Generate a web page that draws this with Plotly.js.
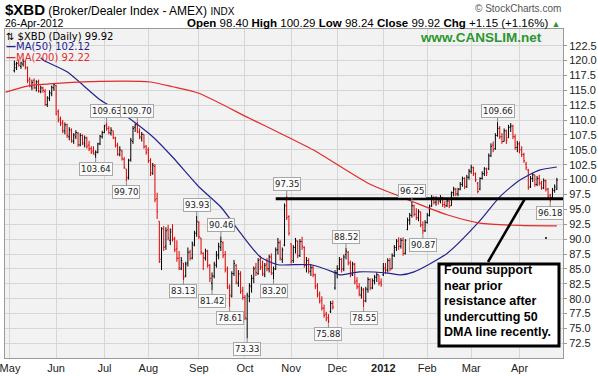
<!DOCTYPE html>
<html><head><meta charset="utf-8">
<script src="https://cdn.plot.ly/plotly-3.0.1.min.js"></script>
<style>html,body{margin:0;padding:0;background:#fff;}#chart{width:598px;height:376px;}</style>
</head><body><div id="chart"></div>
<script>
// ---------- DATA ----------
const calendarStart = '2011-04-28';
const calendarEnd = '2012-04-26';
const marketHolidays = ['2011-05-30','2011-07-04','2011-09-05','2011-11-24','2011-12-26','2012-01-02','2012-01-16','2012-02-20','2012-04-06'];
const firstBarDate = '2011-05-04';

const openPrices = [
118.3,118.8,119.6,119.0,119.4,119.8,118.8,116.8,115.6,116.6,
115.4,116.4,114.8,115.4,114.8,112.6,113.6,114.4,115.4,115.8,
111.4,110.2,109.6,108.2,109.2,107.2,108.2,106.4,107.2,107.8,
105.8,107.4,106.0,107.0,105.8,105.2,104.8,104.2,104.6,106.0,
107.2,107.9,109.2,108.6,107.8,108.2,107.0,105.8,104.2,104.8,
103.4,101.8,100.4,103.4,106.4,108.8,109.2,108.0,107.0,107.6,
105.6,105.0,103.2,101.0,102.2,96.8,93.0,86.6,91.6,88.8,
91.6,89.8,91.6,90.0,88.4,86.8,85.0,86.0,83.8,86.0,
87.8,86.8,89.0,91.0,92.8,90.2,87.6,86.8,88.0,85.6,
82.6,83.8,85.6,87.2,88.6,89.4,87.4,85.0,81.8,80.4,
84.2,85.6,82.6,84.0,81.4,80.2,76.6,80.4,82.0,83.4,
85.2,84.2,86.6,85.4,84.0,85.8,85.0,87.0,84.2,85.0,
88.2,89.4,86.6,89.0,96.4,93.8,89.2,86.4,88.6,89.6,
87.2,89.6,88.6,85.6,86.4,84.6,85.2,84.0,82.2,80.8,
79.8,78.4,77.4,76.8,77.8,79.2,81.8,84.4,85.0,86.6,
85.0,87.4,87.8,86.0,84.0,85.8,83.0,82.0,80.6,81.4,
79.6,81.6,83.2,81.8,83.0,83.6,84.0,82.8,84.0,85.2,
84.8,86.4,85.0,87.2,88.6,89.8,88.8,89.8,87.6,91.6,
93.2,94.0,95.6,94.2,93.6,94.6,92.4,91.4,92.8,94.0,
95.6,97.0,96.2,96.8,96.4,97.0,95.8,95.6,96.4,95.6,
97.8,98.4,97.6,98.4,99.2,100.2,98.8,100.4,101.4,102.0,
101.0,99.4,98.4,100.2,101.0,101.8,101.8,104.0,105.8,105.2,
107.4,108.6,107.2,106.4,108.2,107.0,108.8,109.0,107.2,105.4,
106.0,105.0,104.2,102.6,101.6,98.8,100.2,100.8,99.2,100.2,
99.4,98.6,99.8,98.4,97.4,97.0,98.2,98.40];

const highPrices = [
120.0,119.8,120.2,119.8,120.3,119.9,119.0,117.2,116.8,117.0,
116.7,116.8,115.8,115.6,115.2,114.0,115.0,115.8,116.2,115.9,
111.8,110.6,110.0,109.6,109.4,108.8,108.6,107.8,108.3,108.0,
107.8,107.6,107.4,107.2,106.5,105.6,105.6,104.9,106.2,107.5,
108.2,109.2,109.63,109.0,108.8,108.2,107.2,106.2,105.6,105.0,
103.8,101.8,103.5,107.0,109.0,109.4,109.70,108.6,108.0,107.6,
105.8,105.4,103.6,102.8,102.6,97.8,93.0,92.0,92.2,92.0,
92.4,91.8,92.5,90.4,89.8,88.0,87.0,86.0,86.2,88.6,
88.2,89.6,91.4,93.93,93.0,90.2,87.8,88.4,88.2,85.8,
84.4,86.2,88.0,89.4,90.46,89.6,88.0,85.4,82.4,84.6,
86.5,85.8,84.8,84.6,82.0,80.6,81.0,82.6,84.0,85.4,
86.0,86.8,87.2,86.4,86.0,86.8,87.4,87.6,85.4,88.6,
90.2,89.8,88.6,96.0,97.35,94.0,89.3,89.0,90.2,89.8,
90.0,90.4,88.8,87.0,86.8,85.8,85.6,84.2,82.6,81.2,
80.4,79.0,77.8,77.4,79.6,79.7,84.8,85.6,87.0,86.8,
87.4,88.52,88.0,86.4,86.2,86.0,83.6,82.6,82.0,81.8,
82.0,83.6,83.4,83.4,84.0,84.4,84.0,83.4,86.0,86.0,
86.8,86.8,87.6,89.0,90.0,90.3,90.2,90.3,90.0,93.6,
94.4,96.25,95.8,95.2,95.0,94.6,93.0,93.2,94.4,95.8,
97.4,97.2,97.2,97.0,97.4,97.1,96.4,96.8,96.6,98.0,
98.8,98.6,98.6,99.6,100.5,100.4,100.8,101.8,102.5,102.2,
101.2,99.6,100.4,101.4,102.1,102.0,104.4,106.1,106.4,107.8,
109.66,109.0,107.8,108.6,108.4,109.2,109.5,109.2,107.6,106.5,
106.4,105.6,104.5,103.0,101.8,100.6,101.1,100.8,100.6,100.8,
99.8,100.2,100.0,98.6,97.6,98.6,99.2,100.29];

const lowPrices = [
118.0,118.4,119.0,118.6,119.0,118.5,116.2,115.5,115.0,115.2,
114.8,114.6,114.5,114.6,112.4,112.2,113.2,114.0,114.9,110.8,
109.6,109.0,107.8,107.6,107.0,106.6,106.2,106.0,106.8,105.5,
105.6,105.8,105.4,105.2,104.8,104.3,104.2,103.64,104.4,105.8,
106.9,107.8,108.2,107.6,107.4,106.8,105.4,104.0,103.9,103.2,
101.8,99.70,100.0,103.0,106.0,108.0,107.8,106.8,106.4,105.2,
104.2,102.8,100.6,100.8,96.2,93.4,86.0,84.8,88.0,88.2,
89.8,89.0,89.6,87.8,86.2,84.8,84.8,83.13,83.6,85.4,
86.4,86.6,88.8,90.4,90.0,87.4,84.8,86.4,85.2,82.8,
81.42,83.4,85.2,86.6,88.0,86.8,84.4,81.6,78.61,80.2,
83.8,82.4,82.0,80.8,79.8,76.4,73.33,79.4,81.0,82.6,
83.8,84.0,84.8,83.8,83.6,84.6,84.4,84.0,83.20,84.8,
87.4,86.4,86.0,88.8,93.2,90.6,85.9,86.0,87.6,86.8,
87.0,88.2,85.2,84.4,84.2,83.8,83.6,81.6,80.2,79.2,
78.0,76.8,76.2,75.88,77.6,78.2,81.5,83.4,84.8,84.4,
84.6,86.6,85.6,83.6,83.8,82.4,81.6,80.4,80.0,78.55,
79.4,81.0,81.4,81.6,82.4,82.8,82.2,82.0,83.8,84.2,
84.4,84.6,85.0,87.0,88.0,88.2,88.4,87.2,87.4,91.5,
92.4,93.6,93.8,93.2,93.0,92.0,90.87,91.2,92.6,93.8,
95.4,95.8,95.6,95.8,96.0,95.4,95.2,95.4,95.2,95.6,
97.2,97.2,97.2,98.2,98.8,98.4,98.6,100.0,101.0,100.6,
99.6,97.7,98.2,100.0,100.6,100.6,101.6,103.8,104.6,105.0,
107.2,106.8,106.0,106.4,106.0,107.0,108.0,106.8,105.0,104.6,
104.4,103.8,102.8,101.6,98.3,98.6,99.6,98.8,98.9,99.0,
98.3,98.4,98.0,96.8,96.18,96.8,97.8,98.24];

const closePrices = [
119.4,119.5,119.2,119.6,119.9,118.8,116.6,115.8,116.3,115.5,
116.4,114.9,115.4,115.0,112.6,113.8,114.6,115.5,116.0,111.0,
110.0,109.4,108.2,109.2,107.4,108.4,106.6,107.5,107.9,105.9,
107.4,106.2,107.0,105.6,105.2,104.6,104.5,104.6,106.0,107.3,
107.9,109.0,108.6,107.9,108.3,107.0,105.7,104.3,105.0,103.5,
102.1,100.2,103.2,106.6,108.6,109.2,108.0,107.2,107.6,105.5,
104.6,103.2,101.2,102.4,96.6,94.6,86.2,91.8,88.6,91.4,
90.2,91.2,90.0,88.2,86.8,85.2,86.4,83.6,85.8,87.8,
86.8,89.2,91.0,93.0,90.4,87.8,86.9,88.0,85.6,83.4,
83.8,85.8,87.4,88.8,89.6,87.2,84.8,82.0,80.6,84.2,
85.9,82.8,84.2,81.2,80.2,76.8,80.6,82.2,83.4,85.0,
84.4,86.4,85.2,84.2,85.6,85.0,87.0,84.4,85.0,88.2,
89.4,86.8,88.2,95.6,93.6,91.0,86.2,88.6,89.8,87.2,
89.6,88.8,85.6,86.4,84.6,85.2,84.0,82.0,80.6,79.6,
78.4,77.2,76.6,76.2,79.2,78.6,84.4,85.0,86.6,85.0,
87.0,88.0,86.0,84.0,85.8,82.8,82.0,80.8,81.6,79.6,
81.6,83.2,81.8,83.0,83.6,84.0,82.6,82.4,85.0,84.8,
86.4,85.0,87.2,88.6,89.6,88.8,89.8,87.6,89.8,93.2,
94.0,95.6,94.2,93.6,94.6,92.4,91.4,92.8,94.0,95.4,
97.0,96.2,96.8,96.4,97.0,95.8,95.6,96.4,95.6,97.8,
98.4,97.6,98.4,99.2,100.2,98.8,100.4,101.4,102.0,101.0,
100.0,98.0,100.2,101.0,101.8,101.2,104.0,105.6,105.0,107.4,
108.6,107.2,106.4,108.2,106.6,108.8,109.0,107.2,105.4,106.0,
105.0,104.2,103.2,102.0,98.6,100.2,100.8,99.2,100.2,99.4,
98.6,99.8,98.4,97.2,97.0,98.2,98.77,99.92];

const ma50Dates  = ['2011-05-20','2011-05-23','2011-06-08','2011-06-29','2011-07-14','2011-08-03','2011-08-16','2011-09-01','2011-09-16','2011-09-29','2011-10-12','2011-10-24','2011-11-02','2011-11-14','2011-11-29','2011-12-02','2011-12-15','2012-01-05','2012-01-13','2012-01-24','2012-02-14','2012-03-07','2012-03-20','2012-04-02','2012-04-16','2012-04-26'];
const ma50Values = [120.5,120.1,118.1,113.4,111.2,107.2,103.8,98.8,95.4,91.0,87.0,85.7,85.7,85.7,84.5,84.0,84.5,84.3,84.0,84.5,87.6,93.1,97.1,99.9,101.6,102.12];

const ma200Dates  = ['2011-04-28','2011-05-13','2011-06-03','2011-06-29','2011-08-02','2011-08-16','2011-09-01','2011-10-05','2011-10-25','2011-11-15','2011-12-21','2012-01-13','2012-01-24','2012-02-14','2012-03-07','2012-04-02','2012-04-26'];
const ma200Values = [114.7,115.8,116.2,116.5,116.4,115.6,114.5,110.3,107.8,105.0,99.4,97.1,96.2,94.1,92.7,92.3,92.22];

// labelled pivot highs (H) and lows (L)
const pivotDates = ['2011-06-27','2011-07-05','2011-07-18','2011-07-25','2011-08-23','2011-08-31','2011-09-12','2011-09-16','2011-09-22','2011-10-04','2011-10-20','2011-10-28','2011-11-25','2011-12-07','2011-12-19','2012-01-23','2012-01-30','2012-03-19','2012-04-23'];
const pivotKinds = ['L','H','L','H','L','H','L','H','L','L','L','H','L','H','L','H','L','H','L'];

const supportLevel = 96.78;
const supportFrom = '2011-10-21';
const monthNames = ['Jan','Feb','Mar','Apr','May','Jun','Jul','Aug','Sep','Oct','Nov','Dec'];
const yTicks = [72.5,75,77.5,80,82.5,85,87.5,90,92.5,95,97.5,100,102.5,105,107.5,110,112.5,115,117.5,120,122.5];
const calloutLines = ['Found support','near prior','resistance after','undercutting 50','DMA line recently.'];

// ---------- CALENDAR ----------
function buildCalendar(){
  const days=[]; let d=new Date(calendarStart+'T00:00:00Z'); const end=new Date(calendarEnd+'T00:00:00Z');
  while(d<=end){ const wd=d.getUTCDay(); const s=d.toISOString().slice(0,10);
    if(wd!==0&&wd!==6&&!marketHolidays.includes(s)) days.push(s);
    d=new Date(d.getTime()+86400000); }
  return days;
}
const cal=buildCalendar(); const idx={}; cal.forEach((s,i)=>idx[s]=i);
const x0=idx[firstBarDate];
const barX=closePrices.map((_,k)=>x0+k);
const tickvals=[], ticktext=[];
for(let i=1;i<cal.length;i++){
  const m=+cal[i].slice(5,7), pm=+cal[i-1].slice(5,7);
  if(m!==pm){ tickvals.push(i); ticktext.push(m===1?'<b>'+cal[i].slice(0,4)+'</b>':monthNames[m-1]); }
}

// ---------- GEOMETRY HELPERS (pixel -> paper) ----------
const W=598,H=376,L=5,R=35,T=29,B=18;
const pw=W-L-R, ph=H-T-B;
const px=x=>(x-L)/pw, py=y=>(H-B-y)/ph;

const n=closePrices.length;
const lastC=closePrices[n-1], prevC=closePrices[n-2];
const chg=lastC-prevC, pct=chg/prevC*100;

const traces=[
 {type:'ohlc', x:barX, open:openPrices, high:highPrices, low:lowPrices, close:closePrices,
  increasing:{line:{color:'#000000',width:1}}, decreasing:{line:{color:'#e00000',width:1}},
  tickwidth:0.45, hoverinfo:'skip', showlegend:false},
 {type:'scatter', mode:'lines', x:ma50Dates.map(d=>idx[d]), y:ma50Values,
  line:{color:'#23238f',width:1.2,shape:'spline',smoothing:0.6}, hoverinfo:'skip', showlegend:false},
 {type:'scatter', mode:'lines', x:ma200Dates.map(d=>idx[d]), y:ma200Values,
  line:{color:'#e42a2a',width:1.2,shape:'spline',smoothing:0.6}, hoverinfo:'skip', showlegend:false}
];

const ann=[];
const F='Liberation Sans, Arial, sans-serif', V='DejaVu Sans, Verdana, sans-serif';
ann.push({xref:'paper',yref:'paper',x:px(3),y:py(10),xanchor:'left',yanchor:'middle',showarrow:false,
  text:'<span style="font-size:15px"><b>$XBD</b></span> (Broker/Dealer Index - AMEX) <span style="font-size:10px">INDX</span>',
  font:{family:F,size:12,color:'#000'}});
ann.push({xref:'paper',yref:'paper',x:px(3),y:py(23),xanchor:'left',yanchor:'middle',showarrow:false,
  text:'26-Apr-2012',font:{family:F,size:10.5,color:'#000'}});
ann.push({xref:'paper',yref:'paper',x:px(563),y:py(8),xanchor:'right',yanchor:'middle',showarrow:false,
  text:'© StockCharts.com',font:{family:F,size:10,color:'#555'}});
ann.push({xref:'paper',yref:'paper',x:px(562),y:py(23.5),xanchor:'right',yanchor:'middle',showarrow:false,
  text:'<b>Open</b> '+openPrices[n-1].toFixed(2)+' <b>High</b> '+highPrices[n-1].toFixed(2)+' <b>Low</b> '+lowPrices[n-1].toFixed(2)+
       ' <b>Close</b> '+lastC.toFixed(2)+' <b>Chg</b> +'+chg.toFixed(2)+' (+'+pct.toFixed(2)+'%) <span style="color:#2a9a2a;font-size:9px">▲</span>',
  font:{family:F,size:11.5,color:'#000'}});
ann.push({xref:'paper',yref:'paper',x:px(481),y:py(37),xanchor:'center',yanchor:'middle',showarrow:false,
  text:'<b>www.CANSLIM.net</b>',font:{family:F,size:13.5,color:'#2a9630'}});
// legend
ann.push({xref:'paper',yref:'paper',x:px(4),y:py(36),xanchor:'left',yanchor:'middle',showarrow:false,
  text:'⇅ $XBD (Daily) '+lastC.toFixed(2),font:{family:V,size:10,color:'#000'}});
ann.push({xref:'paper',yref:'paper',x:px(4),y:py(46.5),xanchor:'left',yanchor:'middle',showarrow:false,
  text:'<b>—</b>MA(50) '+ma50Values[ma50Values.length-1].toFixed(2),font:{family:V,size:10,color:'#23238f'}});
ann.push({xref:'paper',yref:'paper',x:px(4),y:py(57.5),xanchor:'left',yanchor:'middle',showarrow:false,
  text:'<b>—</b>MA(200) '+ma200Values[ma200Values.length-1].toFixed(2),font:{family:V,size:10,color:'#e42a2a'}});
// pivot labels
pivotDates.forEach((d,j)=>{
  const k=idx[d]-x0; const isH=pivotKinds[j]==='H';
  const v=isH?highPrices[k]:lowPrices[k];
  ann.push({xref:'x',yref:'y',x:idx[d],y:v,text:v.toFixed(2),showarrow:true,arrowhead:0,arrowwidth:1,arrowcolor:'#8a8a8a',
    ax:0,ay:isH?-11:11,standoff:0,bgcolor:'#fbfbfb',bordercolor:'#a8a8a8',borderwidth:1,borderpad:1,
    font:{family:V,size:8.5,color:'#222'}});
});
// callout text
const lineY=[270,285.5,301,316.5,332];
calloutLines.forEach((t,j)=>ann.push({xref:'paper',yref:'paper',x:px(442),y:py(lineY[j]),xanchor:'left',yanchor:'middle',
  showarrow:false,text:'<b>'+t+'</b>',font:{family:F,size:12.5,color:'#000'}}));

const shapes=[
 {type:'line',xref:'x',yref:'y',x0:idx[supportFrom],x1:idx[calendarEnd]+3,y0:supportLevel,y1:supportLevel,line:{color:'#000',width:3}},
 {type:'line',xref:'paper',yref:'paper',x0:px(488),y0:py(262),x1:px(525),y1:py(198.5),line:{color:'#000',width:2.5}},
 {type:'rect',xref:'paper',yref:'paper',x0:px(439),x1:px(559),y0:py(346),y1:py(264),line:{color:'#000',width:3},fillcolor:'#fff'},
 {type:'circle',xref:'paper',yref:'paper',x0:px(545),x1:px(547),y0:py(239),y1:py(237),line:{width:0},fillcolor:'#000'}
];

const layout={
 width:W,height:H,margin:{l:L,r:R,t:T,b:B},paper_bgcolor:'#ffffff',plot_bgcolor:'#f2f2f2',showlegend:false,
 xaxis:{range:[-0.27,253.8],tickvals:tickvals,ticktext:ticktext,showgrid:true,gridcolor:'#d6d6d6',gridwidth:1,
   zeroline:false,showline:true,mirror:true,linecolor:'#9a9a9a',linewidth:1,ticks:'',ticklabeloverflow:'allow',
   tickfont:{family:F,size:11,color:'#222'},rangeslider:{visible:false},fixedrange:true},
 yaxis:{side:'right',range:[70.03,125.3],tickvals:yTicks,ticktext:yTicks.map(v=>v.toFixed(1)),showgrid:true,gridcolor:'#d6d6d6',
   zeroline:false,showline:true,mirror:true,linecolor:'#9a9a9a',linewidth:1,ticks:'outside',ticklen:3,tickcolor:'#9a9a9a',
   tickfont:{family:F,size:11,color:'#222'},fixedrange:true},
 annotations:ann,shapes:shapes
};
Plotly.newPlot('chart',traces,layout,{displayModeBar:false,staticPlot:true});
</script></body></html>
